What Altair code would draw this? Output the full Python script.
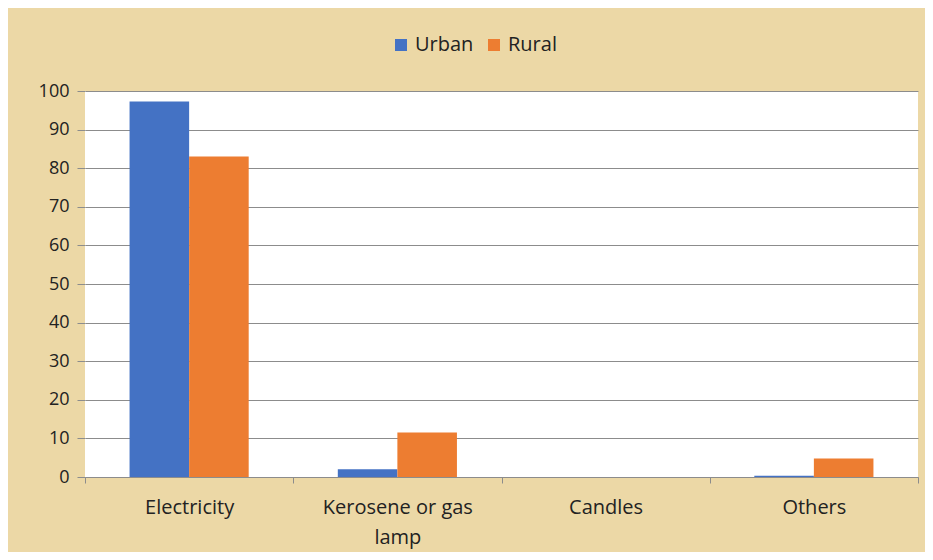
import altair as alt
import pandas as pd

categories = ["Electricity", "Kerosene or gas lamp", "Candles", "Others"]
urban = [97.3, 2.0, 0.0, 0.3]
rural = [83.0, 11.5, 0.0, 4.8]
series = ["Urban", "Rural"]

rows = []
for i, c in enumerate(categories):
    rows.append({"category": c, "area": "Urban", "value": urban[i]})
    rows.append({"category": c, "area": "Rural", "value": rural[i]})
df = pd.DataFrame(rows)

FONT = "Open Sans"

bars = alt.Chart(df).mark_bar().encode(
    x=alt.X(
        "category:N",
        sort=categories,
        title=None,
        scale=alt.Scale(paddingInner=0, paddingOuter=0),
        axis=alt.Axis(
            labelAngle=0,
            labelFontSize=20,
            labelFont=FONT,
            labelColor="#222222",
            labelPadding=14,
            labelLineHeight=30,
            labelExpr="datum.label == 'Kerosene or gas lamp' ? ['Kerosene or gas', 'lamp'] : datum.label",
            tickBand="extent",
            tickSize=6,
            tickColor="#8c8c8c",
            domainColor="#8c8c8c",
            grid=False,
        ),
    ),
    xOffset=alt.XOffset(
        "area:N",
        sort=series,
        scale=alt.Scale(paddingInner=0, paddingOuter=0.748),
    ),
    y=alt.Y(
        "value:Q",
        title=None,
        scale=alt.Scale(domain=[0, 100]),
        axis=alt.Axis(
            values=list(range(0, 101, 10)),
            labelFontSize=18,
            labelFont=FONT,
            labelColor="#222222",
            labelPadding=8,
            tickSize=8,
            tickColor="#8c8c8c",
            gridColor="#8c8c8c",
            gridWidth=1,
            domain=False,
        ),
    ),
    color=alt.Color(
        "area:N",
        sort=series,
        scale=alt.Scale(domain=series, range=["#4472C4", "#ED7D31"]),
        legend=alt.Legend(
            title=None,
            orient="none",
            direction="horizontal",
            legendX=306,
            legendY=-56,
            symbolType="square",
            symbolSize=144,
            symbolStrokeWidth=0,
            labelFontSize=20,
            labelFont=FONT,
            labelColor="#222222",
            columnPadding=10,
        ),
    ),
)

chart = bars.properties(
    width=833,
    height=386,
    autosize=alt.AutoSizeParams(type="none"),
    padding={"left": 77, "top": 83, "right": 7, "bottom": 75},
    background="#ecd8a6",
).configure_view(
    fill="white",
    stroke=None,
)

chart.save("out.html", embed_options={"renderer": "svg", "actions": False})
